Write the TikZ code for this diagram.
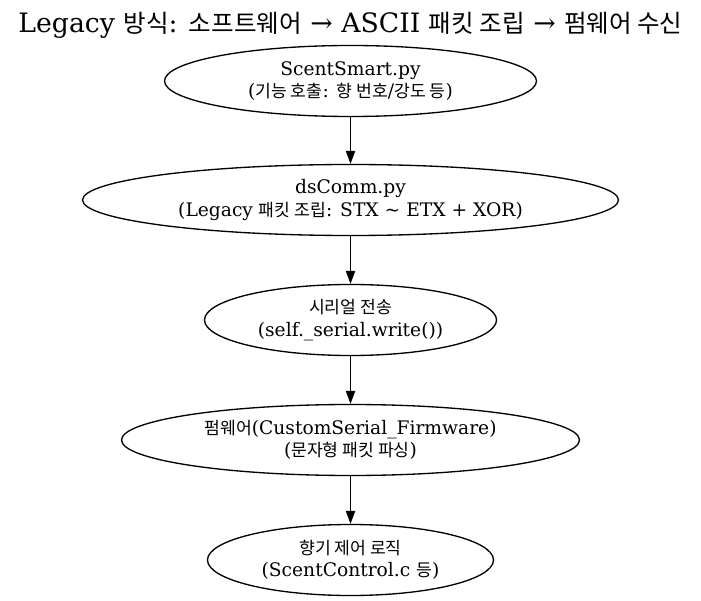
\documentclass[tikz,border=0pt]{standalone}
\usepackage{fontspec}
\setmainfont{DejaVu Serif}
\newfontfamily\kr{Noto Sans CJK KR}[Scale=0.92]
\usetikzlibrary{shapes.geometric,arrows.meta}
\begin{document}
\begin{tikzpicture}[x=1pt,y=-1pt,
  nd/.style={draw, ellipse, line width=1.33pt, inner sep=0pt, align=center,
    minimum height=71pt, font=\fontsize{18.67}{22.4}\selectfont},
  arr/.style={-{Triangle[length=13pt,width=9.3pt]}, line width=1.33pt}]
\useasboundingbox (0,0) rectangle (701,601);
\node[inner sep=0pt] (title) at (350.5,25) {\fontsize{26.7}{30}\selectfont Legacy {\kr 방식}: {\kr 소프트웨어} → ASCII {\kr 패킷 조립} → {\kr 펌웨어 수신}};
\node[nd, minimum width=372pt] (n1) at (350.5,81) {ScentSmart.py\\({\kr 기능 호출}: {\kr 향 번호}/{\kr 강도 등})};
\node[nd, minimum width=536pt] (n2) at (350.5,200) {dsComm.py\\(Legacy {\kr 패킷 조립}: STX \char`\~{} ETX + XOR)};
\node[nd, minimum width=292pt] (n3) at (350.5,320) {{\kr 시리얼 전송}\\(self.\_serial.write())};
\node[nd, minimum width=458pt] (n4) at (350.5,440) {{\kr 펌웨어}(CustomSerial\_Firmware)\\({\kr 문자형 패킷 파싱})};
\node[nd, minimum width=286pt] (n5) at (350.5,560) {{\kr 향기 제어 로직}\\(ScentControl.c {\kr 등})};
\draw[arr] (n1) -- (n2);
\draw[arr] (n2) -- (n3);
\draw[arr] (n3) -- (n4);
\draw[arr] (n4) -- (n5);
\end{tikzpicture}
\end{document}
